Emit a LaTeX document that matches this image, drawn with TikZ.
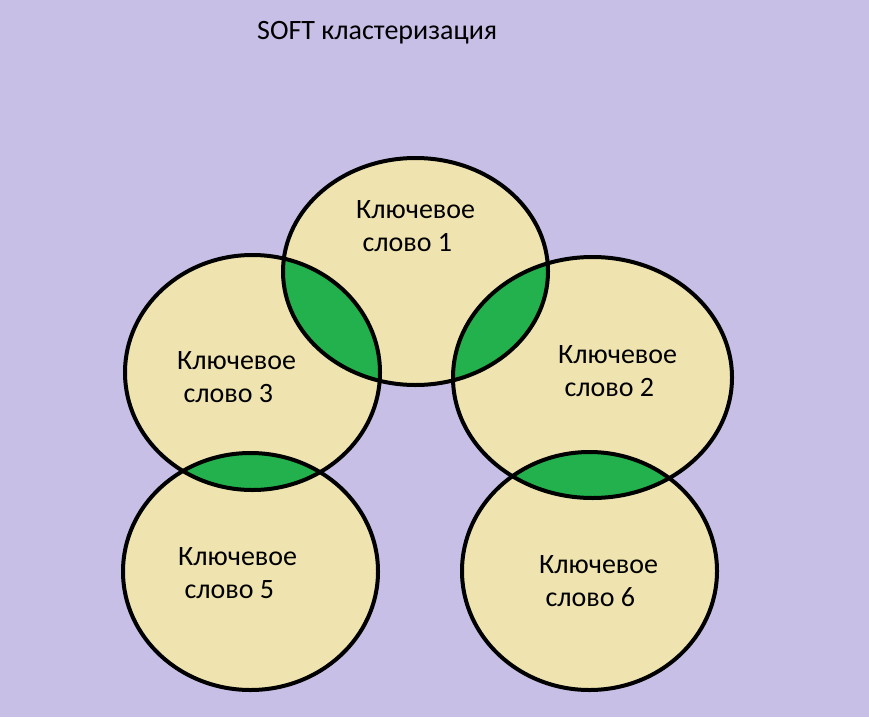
\documentclass[tikz,border=0pt]{standalone}
\usepackage{fontspec}
\setmainfont{Carlito}
\definecolor{cc8bfe7}{RGB}{200,191,231}
\definecolor{cefe4b0}{RGB}{239,228,176}
\definecolor{c22b14c}{RGB}{34,177,76}
\tikzset{
  kw/.style={anchor=west,inner sep=0pt,align=left,font=\fontsize{28}{33}\selectfont},
  lens/.style={color=c22b14c}
}

\begin{document}
\begin{tikzpicture}[line cap=round,line join=round,x=1pt,y=-1pt]
\fill [color=cc8bfe7] (0,0) rectangle (869,717);
\useasboundingbox (0,0) rectangle (869,717);
\coordinate (e1) at (415.5,271.5);
\coordinate (e2) at (592.5,377.5);
\coordinate (e3) at (252.5,372.5);
\coordinate (e5) at (250.5,571.5);
\coordinate (e6) at (589.5,571);
\fill [color=cefe4b0] (e1) ellipse (132.5pt and 113.5pt);
\fill [color=cefe4b0] (e2) ellipse (139.5pt and 120.5pt);
\fill [color=cefe4b0] (e3) ellipse (127.5pt and 117.5pt);
\fill [color=cefe4b0] (e5) ellipse (127.5pt and 118.5pt);
\fill [color=cefe4b0] (e6) ellipse (127.5pt and 119pt);
\begin{scope}
\clip (e1) ellipse (132.5pt and 113.5pt);
\fill [lens] (e3) ellipse (127.5pt and 117.5pt);
\fill [lens] (e2) ellipse (139.5pt and 120.5pt);
\end{scope}
\begin{scope}
\clip (e3) ellipse (127.5pt and 117.5pt);
\fill [lens] (e5) ellipse (127.5pt and 118.5pt);
\end{scope}
\begin{scope}
\clip (e2) ellipse (139.5pt and 120.5pt);
\fill [lens] (e6) ellipse (127.5pt and 119pt);
\end{scope}
\draw [line width=4pt] (e1) ellipse (132.5pt and 113.5pt);
\draw [line width=4pt] (e2) ellipse (139.5pt and 120.5pt);
\draw [line width=4pt] (e3) ellipse (127.5pt and 117.5pt);
\draw [line width=4pt] (e5) ellipse (127.5pt and 118.5pt);
\draw [line width=4pt] (e6) ellipse (127.5pt and 119pt);
\node (title) at (257,33) [anchor=west,inner sep=0pt,font=\fontsize{28}{33}\selectfont] {SOFT кластеризация};
\node (k1) at (356,226) [kw] {Ключевое\\\ слово 1};
\node (k2) at (558,371) [kw] {Ключевое\\\ слово 2};
\node (k3) at (177,377) [kw] {Ключевое\\\ слово 3};
\node (k5) at (178,573) [kw] {Ключевое\\\ слово 5};
\node (k6) at (539,581) [kw] {Ключевое\\\ слово 6};
\end{tikzpicture}
\end{document}
